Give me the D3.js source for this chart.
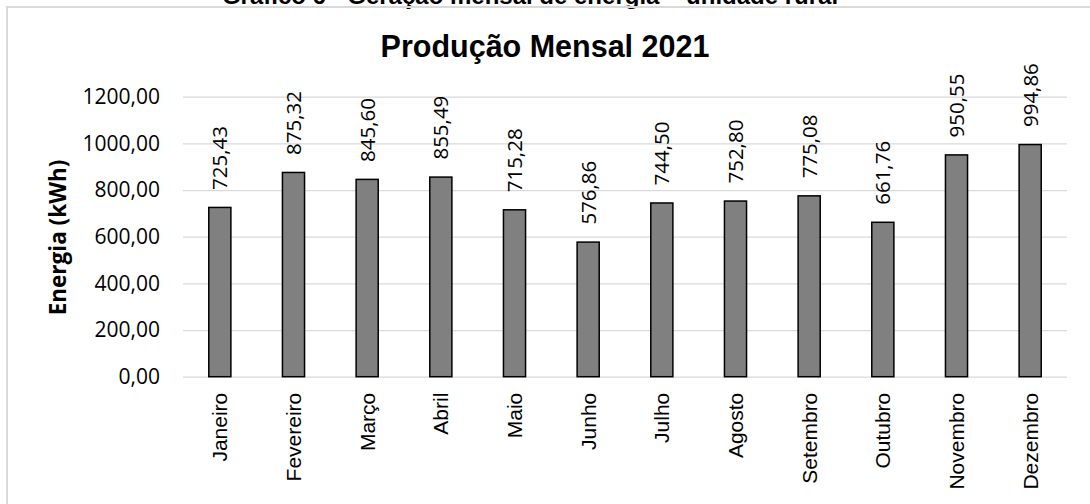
<!DOCTYPE html>
<html lang="pt-BR">
<head>
<meta charset="utf-8">
<script src="https://cdn.jsdelivr.net/npm/d3@7"></script>
<style>
  html, body { margin: 0; padding: 0; background: #fff; }
  svg { display: block; }
</style>
</head>
<body>
<svg id="chart" width="1090" height="504"></svg>
<script>
// Monthly energy production (kWh), 2021
const months = ["Janeiro", "Fevereiro", "Março", "Abril", "Maio", "Junho",
                "Julho", "Agosto", "Setembro", "Outubro", "Novembro", "Dezembro"];
const energy = [725.43, 875.32, 845.60, 855.49, 715.28, 576.86,
                744.50, 752.80, 775.08, 661.76, 950.55, 994.86];
const yTicks = [0, 200, 400, 600, 800, 1000, 1200];

const caption = "Gráfico 6 - Geração mensal de energia – unidade rural";
const title = "Produção Mensal 2021";
const yLabel = "Energia (kWh)";

const plot = { left: 183, right: 1067, top: 96.7, bottom: 376.7 };

const svg = d3.select("#chart");
const fmt = v => v.toFixed(2).replace(".", ",");

const sans = "'Liberation Sans', Arial, sans-serif";
const humanist = "'Open Sans', 'Noto Sans', sans-serif";

// Document caption, partly hidden above the frame
svg.append("text")
  .attr("x", 530).attr("y", 3.5)
  .attr("text-anchor", "middle")
  .style("font-family", sans).style("font-weight", "bold").style("font-size", "24px")
  .attr("fill", "#000")
  .text(caption);

// Chart frame
svg.append("rect")
  .attr("x", 7).attr("y", 7)
  .attr("width", 1100).attr("height", 520)
  .attr("fill", "none").attr("stroke", "#d9d9d9").attr("stroke-width", 2);

// Title
svg.append("text")
  .attr("x", 545).attr("y", 57)
  .attr("text-anchor", "middle")
  .style("font-family", sans).style("font-weight", "bold").style("font-size", "30.5px")
  .attr("fill", "#000")
  .text(title);

const x = d3.scaleBand().domain(months).range([plot.left, plot.right]).paddingInner(0.7).paddingOuter(0.35);
const y = d3.scaleLinear().domain([0, 1200]).range([plot.bottom, plot.top]);

// Gridlines + y tick labels
const yAxis = d3.axisLeft(y).tickValues(yTicks).tickFormat(fmt)
  .tickSize(-(plot.right - plot.left)).tickPadding(23);
const gy = svg.append("g").attr("transform", `translate(${plot.left},0)`).call(yAxis);
gy.select(".domain").remove();
gy.selectAll(".tick line").attr("stroke", "#d9d9d9").attr("stroke-width", 1.3);
gy.selectAll(".tick text")
  .style("font-family", humanist).style("font-size", "21px").attr("fill", "#000");

// Bars
svg.append("g").selectAll("rect")
  .data(months.map((m, i) => ({ m, v: energy[i] })))
  .join("rect")
  .attr("x", d => x(d.m))
  .attr("y", d => y(d.v))
  .attr("width", x.bandwidth())
  .attr("height", d => y(0) - y(d.v))
  .attr("fill", "#808080")
  .attr("stroke", "#000")
  .attr("stroke-width", 1.5);

// Value labels, rotated, above each bar
svg.append("g").selectAll("text")
  .data(months.map((m, i) => ({ m, v: energy[i] })))
  .join("text")
  .attr("transform", d => `translate(${x(d.m) + x.bandwidth() / 2},${y(d.v) - 17.5}) rotate(-90)`)
  .attr("dy", "0.36em")
  .attr("text-anchor", "start")
  .style("font-family", humanist).style("font-size", "20.5px")
  .attr("fill", "#000")
  .text(d => fmt(d.v));

// Category labels, rotated
const xAxis = d3.axisBottom(x).tickSize(0).tickPadding(0);
const gx = svg.append("g").attr("transform", `translate(0,${plot.bottom})`).call(xAxis);
gx.select(".domain").remove();
gx.selectAll(".tick text")
  .attr("transform", "translate(0,16) rotate(-90)")
  .attr("x", 0).attr("y", 0)
  .attr("dy", "0.36em")
  .attr("text-anchor", "end")
  .style("font-family", sans).style("font-size", "21px")
  .attr("fill", "#000");

// Y axis title
svg.append("text")
  .attr("transform", "translate(66,237.5) rotate(-90)")
  .attr("text-anchor", "middle")
  .style("font-family", humanist).style("font-weight", "bold").style("font-size", "22.5px")
  .attr("fill", "#000")
  .text(yLabel);
</script>
</body>
</html>
